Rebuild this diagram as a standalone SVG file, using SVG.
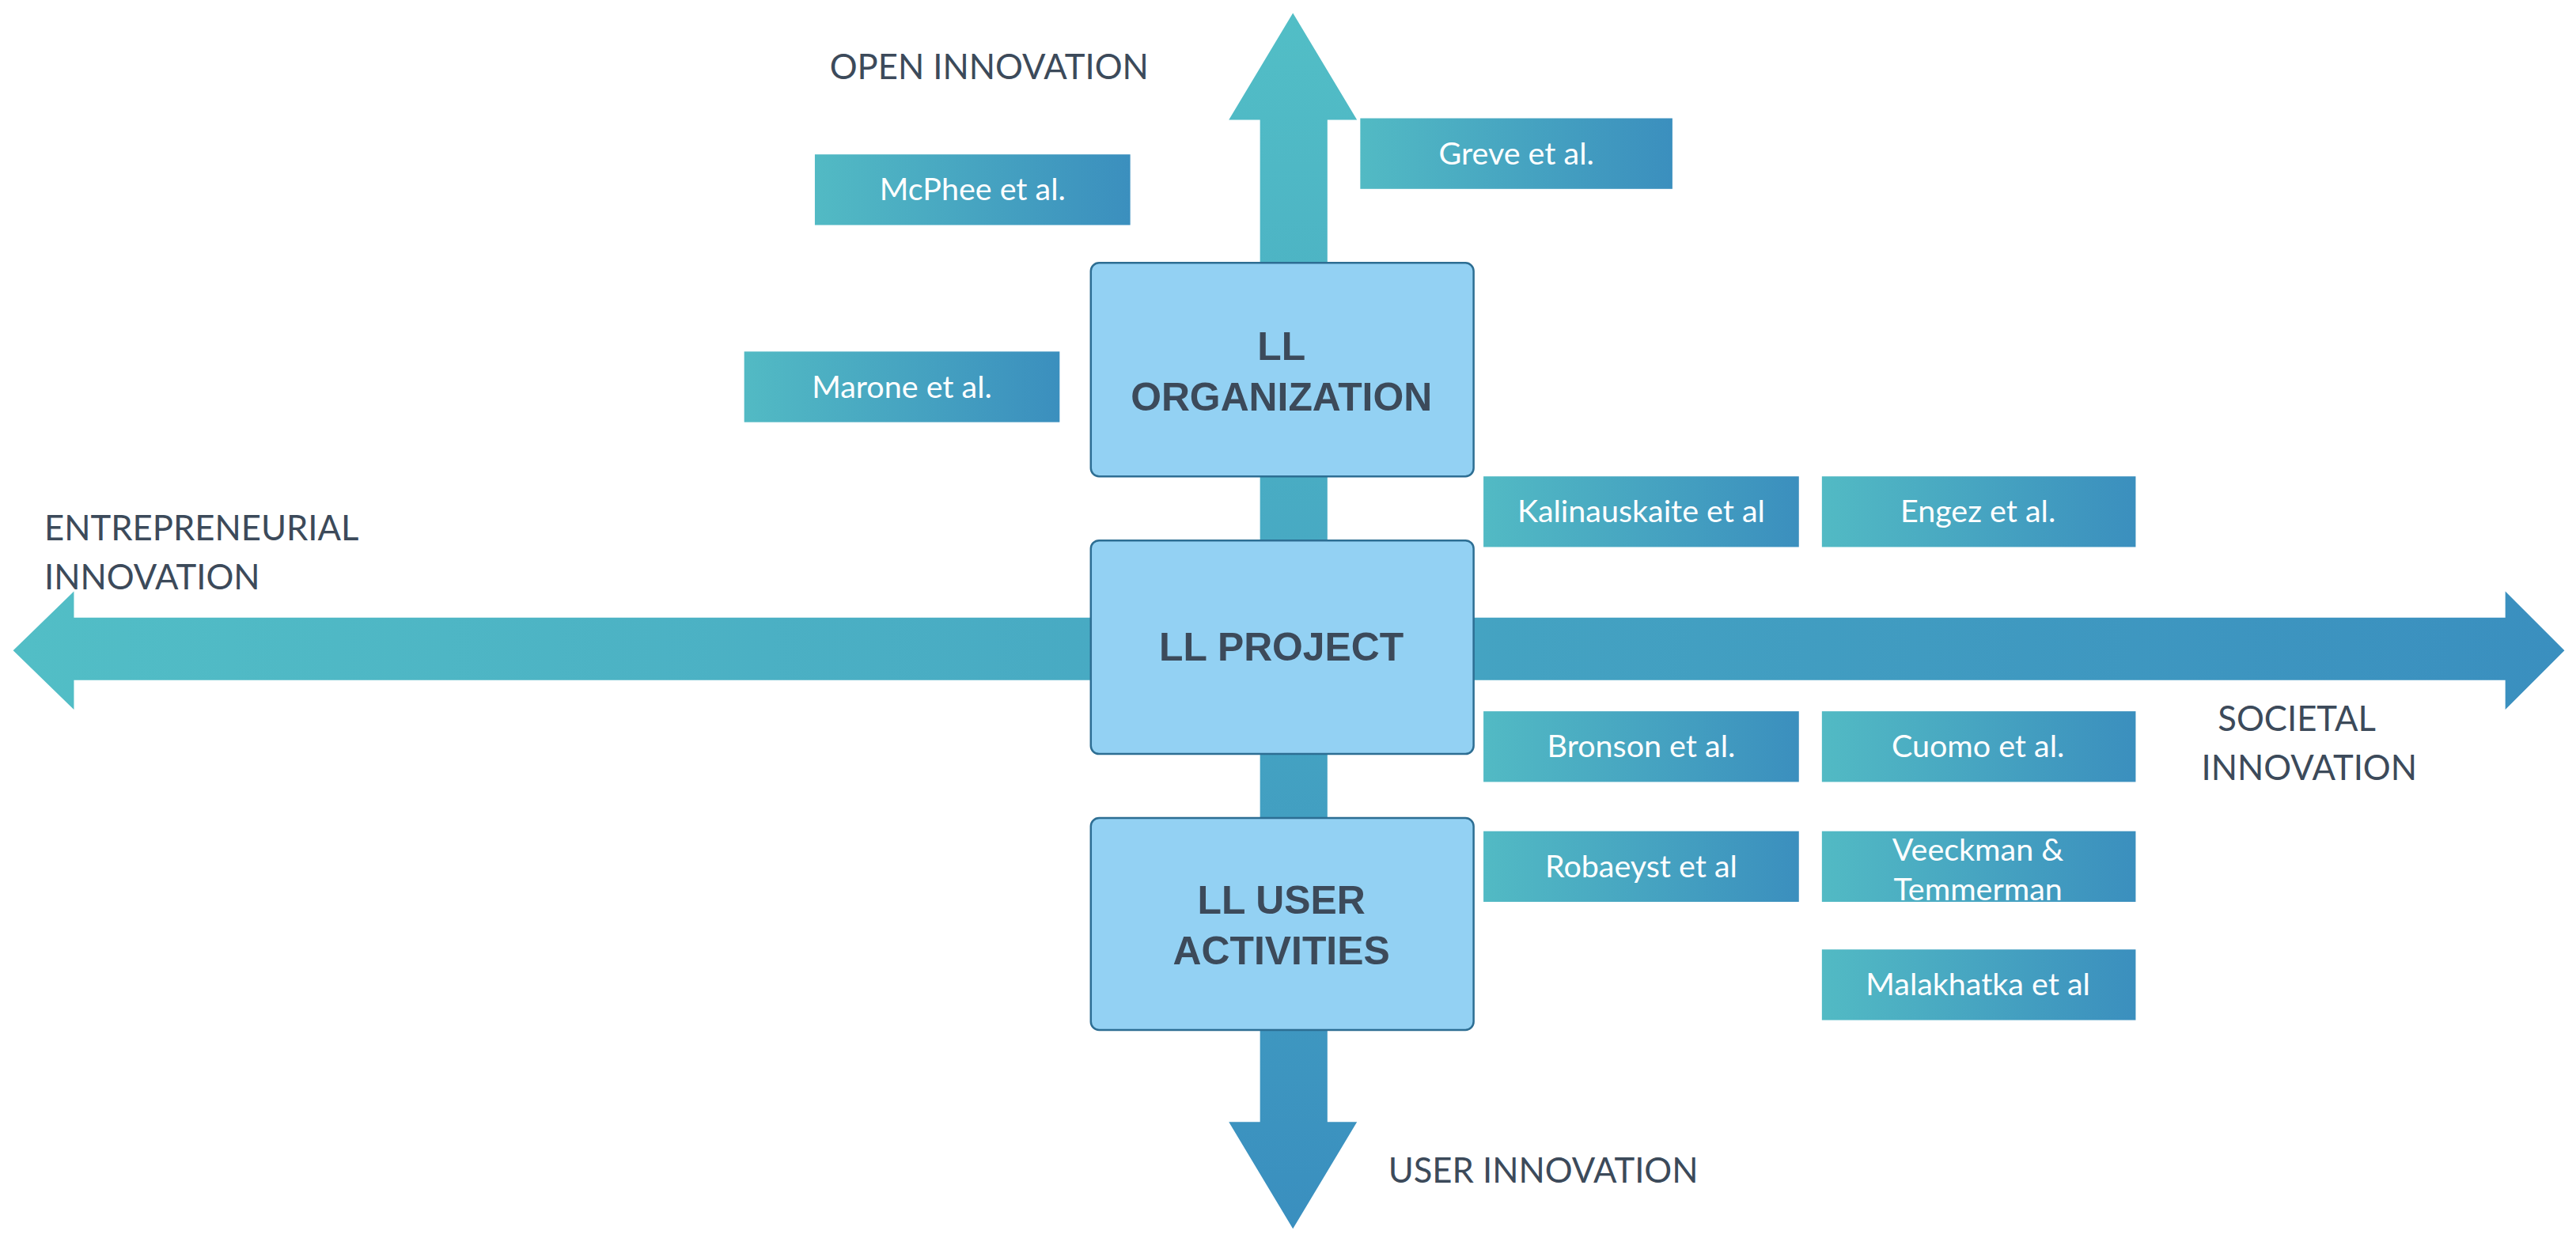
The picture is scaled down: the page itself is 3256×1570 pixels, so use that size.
<svg xmlns="http://www.w3.org/2000/svg" width="3256" height="1570" viewBox="0 0 3256 1570">
<defs>
<linearGradient id="gh" x1="0" y1="0" x2="1" y2="0"><stop offset="0" stop-color="#52BEC6"/><stop offset="1" stop-color="#3A8FBF"/></linearGradient>
<linearGradient id="gv" x1="0" y1="0" x2="0" y2="1"><stop offset="0" stop-color="#52BEC6"/><stop offset="1" stop-color="#3A8FBF"/></linearGradient>
<linearGradient id="gb" x1="0" y1="0" x2="1" y2="0"><stop offset="0" stop-color="#52BAC4"/><stop offset="1" stop-color="#3B8FBE"/></linearGradient>
<style>
.big{fill:#93D1F3;stroke:#2D6E93;stroke-width:1.2}
.bt{font-family:"Liberation Sans",Arial,sans-serif;font-weight:bold;font-size:24px;fill:#3C4A5A;text-anchor:middle}
.sm{fill:url(#gb)}
.st{font-family:"Lato","Liberation Sans",sans-serif;font-size:19px;fill:#fff;text-anchor:middle}
.ax{font-family:"Lato","Liberation Sans",sans-serif;font-size:21px;fill:#3C4A5A}
</style>
</defs>
<g transform="scale(2.0765)">
<g id="connectors">
<polygon fill="url(#gh)" points="8,396 45,360 45,376 1525,376 1525,360 1561,396 1525,432 1525,414 45,414 45,432"/>
<polygon fill="url(#gv)" points="787,8 826,73 808,73 808,683 826,683 787,748 748,683 767,683 767,73 748,73"/>
</g>
<g id="n_org"><rect class="big" x="664" y="160" width="233" height="130" rx="5"/><text class="bt" x="780" y="219">LL</text><text class="bt" x="780" y="250">ORGANIZATION</text></g>
<g id="n_proj"><rect class="big" x="664" y="329" width="233" height="130" rx="5"/><text class="bt" x="780" y="402">LL PROJECT</text></g>
<g id="n_user"><rect class="big" x="664" y="498" width="233" height="129" rx="5"/><text class="bt" x="780" y="556">LL USER</text><text class="bt" x="780" y="587">ACTIVITIES</text></g>
<g id="b1"><rect class="sm" x="496" y="94" width="192" height="43"/><text class="st" x="592" y="122">McPhee et al.</text></g>
<g id="b2"><rect class="sm" x="828" y="72" width="190" height="43"/><text class="st" x="923" y="100">Greve et al.</text></g>
<g id="b3"><rect class="sm" x="453" y="214" width="192" height="43"/><text class="st" x="549" y="242">Marone et al.</text></g>
<g id="b4"><rect class="sm" x="903" y="290" width="192" height="43"/><text class="st" x="999" y="318">Kalinauskaite et al</text></g>
<g id="b5"><rect class="sm" x="1109" y="290" width="191" height="43"/><text class="st" x="1204" y="318">Engez et al.</text></g>
<g id="b6"><rect class="sm" x="903" y="433" width="192" height="43"/><text class="st" x="999" y="461">Bronson et al.</text></g>
<g id="b7"><rect class="sm" x="1109" y="433" width="191" height="43"/><text class="st" x="1204" y="461">Cuomo et al.</text></g>
<g id="b8"><rect class="sm" x="903" y="506" width="192" height="43"/><text class="st" x="999" y="534">Robaeyst et al</text></g>
<g id="b9"><rect class="sm" x="1109" y="506" width="191" height="43"/><text class="st" x="1204" y="524">Veeckman &amp;</text><text class="st" x="1204" y="548">Temmerman</text></g>
<g id="b10"><rect class="sm" x="1109" y="578" width="191" height="43"/><text class="st" x="1204" y="606">Malakhatka et al</text></g>
<g id="labels">
<text class="ax" x="505" y="48">OPEN INNOVATION</text>
<text class="ax" x="27" y="329">ENTREPRENEURIAL</text>
<text class="ax" x="27" y="359">INNOVATION</text>
<text class="ax" x="1350" y="445">SOCIETAL</text>
<text class="ax" x="1340" y="475">INNOVATION</text>
<text class="ax" x="845" y="720">USER INNOVATION</text>
</g>
</g>
</svg>
